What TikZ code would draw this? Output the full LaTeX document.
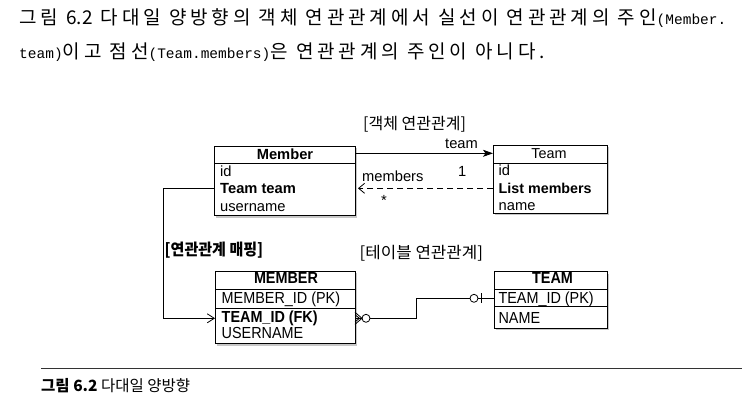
\documentclass[tikz,border=0pt]{standalone}
\usepackage{fontspec}
\usepackage{graphicx}
\setmainfont{Liberation Sans}
\newfontfamily\kr{Noto Sans CJK KR}
\newfontfamily\krhdr[LetterSpace=20.5]{Noto Sans CJK KR}
\newfontfamily\hdrmono{Liberation Mono}
\newfontfamily\narrowsans[FakeStretch=0.9]{Liberation Sans}
\usetikzlibrary{arrows.meta,calc}
\begin{document}
\begin{tikzpicture}[x=1pt,y=-1pt,
  box/.style={draw=black,line width=0.8pt},
  shade/.style={fill=black!22,draw=none},
  objtxt/.style={anchor=base west,inner sep=0pt,font=\fontsize{14.7}{15}\selectfont},
  objbold/.style={anchor=base west,inner sep=0pt,font=\fontsize{14.7}{15}\selectfont\bfseries},
  objhead/.style={anchor=base,inner sep=0pt,font=\fontsize{14.7}{15}\selectfont\bfseries},
  tbltxt/.style={anchor=base west,inner sep=0pt,font=\narrowsans\fontsize{16}{17}\selectfont},
  tblbold/.style={anchor=base west,inner sep=0pt,font=\narrowsans\fontsize{16}{17}\selectfont\bfseries},
  tblhead/.style={anchor=base,inner sep=0pt,font=\narrowsans\fontsize{16}{17}\selectfont\bfseries},
  lbl/.style={anchor=base west,inner sep=0pt,font=\fontsize{14.7}{15}\selectfont},
  krlbl/.style={anchor=base west,inner sep=0pt,font=\kr\fontsize{16}{17}\selectfont},
  conn/.style={line width=0.8pt},
  hdr/.style={anchor=base west,inner sep=0pt,font=\krhdr\fontsize{19}{21}\selectfont}
]
\useasboundingbox (0,0) rectangle (750,412);
\fill[white] (0,0) rectangle (750,412);

% header text
\newcommand{\hm}[1]{{\hdrmono\fontsize{14.5}{15}\selectfont #1}}
\node[hdr] (h1) at (19,25) {그림 {\kr 6.2} 다대일 양방향의 객체 연관관계에서 실선이 연관관계의 주인\hm{(Member.}};
\node[hdr] (h2) at (19,59) {\hm{team)}이고 점선\hm{(Team.members)}은 연관관계의 주인이 아니다.};

% ---------- Member (object) ----------
\fill[shade] (216,148) rectangle (357,217.5);
\draw[box,fill=white] (214,146) rectangle (355,215.5);
\draw[box] (214,163) -- (355,163);
\coordinate (mW) at (214,188.3);
\coordinate (mE1) at (355,153.3);
\coordinate (mE2) at (355,188.3);
\node[objhead] (mhead) at (285,159.5) {Member};
\node[objtxt] (m1) at (220,176) {id};
\node[objbold] (m2) at (220,193.5) {Team team};
\node[objtxt] (m3) at (220,211) {username};

% ---------- Team (object) ----------
\fill[shade] (495,147) rectangle (609,215);
\draw[box,fill=white] (493,145) rectangle (607,213);
\draw[box] (493,163) -- (607,163);
\coordinate (tW1) at (493,153.3);
\coordinate (tW2) at (493,188.3);
\node[objhead,font=\fontsize{14.4}{15}\selectfont] (thead) at (549,158.5) {Team};
\node[objtxt] (t1) at (498.5,175.5) {id};
\node[objbold,font=\fontsize{14.3}{15}\selectfont\bfseries] (t2) at (498.5,193) {List members};
\node[objtxt] (t3) at (498.5,210) {name};

% object association
\draw[conn,-{Stealth[length=10pt,width=7pt,inset=2.5pt]}] (mE1) -- (tW1);
\draw[conn,dash pattern=on 6pt off 4pt,-{Straight Barb[length=6pt,width=10pt]}] (tW2) -- ($(mE2)+(3,0)$);
\node[lbl] (lteam) at (445,148) {team};
\node[lbl] (lmembers) at (362,181.5) {members};
\node[lbl] (lone) at (458,176) {1};
\node[lbl] (lstar) at (381,205) {*};
\node[krlbl] (objlbl) at (363,129) {[객체 연관관계]};

% ---------- MEMBER (table) ----------
\fill[shade] (217,273) rectangle (357,345.5);
\draw[box,fill=white] (215,271) rectangle (355,343.5);
\draw[box] (215,289.5) -- (355,289.5);
\draw[box] (215,308.3) -- (355,308.3);
\coordinate (MW) at (215,318.3);
\coordinate (ME) at (355,318.3);
\node[tblhead] (Mhead) at (286,283.5) {MEMBER};
\node[tbltxt] (M1) at (221.5,303.5) {MEMBER\_ID (PK)};
\node[tblbold] (M2) at (221.5,322) {TEAM\_ID (FK)};
\node[tbltxt] (M3) at (221.5,338.5) {USERNAME};

% ---------- TEAM (table) ----------
\fill[shade] (496.3,273.7) rectangle (609,330.3);
\draw[box,fill=white] (494.3,271.7) rectangle (607,328.3);
\draw[box] (494.3,289.3) -- (607,289.3);
\draw[box] (494.3,306.7) -- (607,306.7);
\coordinate (TW) at (494.3,298.3);
\node[tblhead] (Thead) at (552.5,283.5) {TEAM};
\node[tbltxt] (T1) at (498.3,303.3) {TEAM\_ID (PK)};
\node[tbltxt] (T2) at (498.3,323.3) {NAME};

% mapping connector
\coordinate (bendA) at (163.5,188.3);
\coordinate (bendB) at (163.5,318.3);
\draw[conn,-{Straight Barb[length=7pt,width=9pt]}] (mW) -- (bendA) -- (bendB) -- (MW);
\node[krlbl,font=\kr\bfseries\fontsize{16}{17}\selectfont] (maplbl) at (164.5,255.5) {\scalebox{0.94}[1]{[연관관계 매핑]}};
\node[krlbl] (tbllbl) at (359.5,258) {\scalebox{1.05}[1]{[테이블 연관관계]}};

% ER relationship
\coordinate (c1) at (366,318.3);
\coordinate (e1) at (416.7,318.3);
\coordinate (e2) at (416.7,298.3);
\coordinate (c2) at (474,298.3);
\coordinate (bar) at (481,298.3);
\draw[conn] ($(c1)+(4,0)$) -- (e1) -- (e2) -- ($(c2)+(-4,0)$);
\draw[conn] ($(ME)+(0,-6)$) -- ($(ME)+(7,0)$) -- ($(ME)+(0,6)$);
\draw[conn] ($(ME)+(0,-3.5)$) -- ($(ME)+(4.5,0)$) -- ($(ME)+(0,3.5)$);
\draw[conn] (ME) -- ($(c1)+(-4,0)$);
\draw[conn] (c1) circle (4);
\draw[conn] (c2) circle (4);
\draw[conn] ($(c2)+(4,0)$) -- (TW);
\draw[conn] ($(bar)+(0,-5)$) -- ($(bar)+(0,5)$);

% bottom rule and caption
\draw[line width=0.8pt,black!80] (41,368) -- (742,368);
\node[anchor=base west,inner sep=0pt,font=\kr\fontsize{15.5}{16}\selectfont] (cap) at (41,391) {{\bfseries 그림 6.2} 다대일 양방향};
\end{tikzpicture}
\end{document}
